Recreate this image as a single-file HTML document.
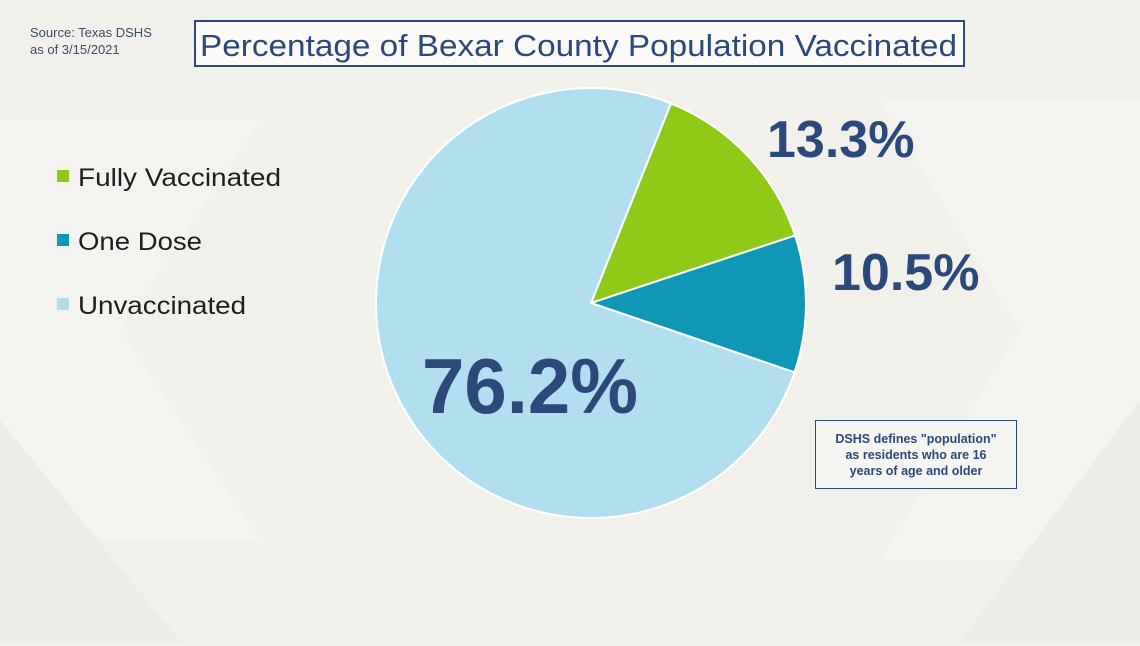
<!DOCTYPE html>
<html><head><meta charset="utf-8"><style>
html,body{margin:0;padding:0;}
body{width:1140px;height:641px;overflow:hidden;background:#f2f0eb;font-family:"Liberation Sans",sans-serif;}
</style></head><body>
<svg width="1140" height="641" viewBox="0 0 1140 641" xmlns="http://www.w3.org/2000/svg">
<rect width="1140" height="641" fill="#f2f0eb"/>
<polygon points="0,120 260,120 120,330 260,540 0,540" fill="#f5f3ef"/>
<polygon points="880,100 1140,100 1140,560 880,560 1020,330" fill="#f5f3ef"/>
<polygon points="0,420 180,641 0,641" fill="#edebe5"/>
<polygon points="1140,400 960,641 1140,641" fill="#edebe5"/>
<text x="30" y="37" font-size="13" fill="#3d4d6a">Source: Texas DSHS</text>
<text x="30" y="54" font-size="13" fill="#3d4d6a">as of 3/15/2021</text>
<rect x="195" y="21" width="769" height="45" fill="#fbfaf8" stroke="#2b4a7b" stroke-width="2"/>
<text x="200" y="56" font-size="31" fill="#2b4a7b" textLength="757" lengthAdjust="spacingAndGlyphs">Percentage of Bexar County Population Vaccinated</text>
<rect x="57" y="170" width="12" height="12" fill="#8fca18"/>
<text x="78" y="186" font-size="25" fill="#1e1e1e" textLength="203" lengthAdjust="spacingAndGlyphs">Fully Vaccinated</text>
<rect x="57" y="234" width="12" height="12" fill="#0e98b5"/>
<text x="78" y="250" font-size="25" fill="#1e1e1e" textLength="124" lengthAdjust="spacingAndGlyphs">One Dose</text>
<rect x="57" y="298" width="12" height="12" fill="#b1dff0"/>
<text x="78" y="314" font-size="25" fill="#1e1e1e" textLength="168" lengthAdjust="spacingAndGlyphs">Unvaccinated</text>
<g stroke="#ffffff" stroke-width="2" stroke-linejoin="round">
<path d="M591,303 L670.9,103.4 A215,215 0 0 1 795.1,235.5 Z" fill="#8fca18"/>
<path d="M591,303 L795.1,235.5 A215,215 0 0 1 794.5,372.3 Z" fill="#0e98b5"/>
<path d="M591,303 L794.5,372.3 A215,215 0 1 1 670.9,103.4 Z" fill="#b1dff0"/>
</g>
<text x="767" y="157" font-size="52" font-weight="bold" fill="#2b4a7b">13.3%</text>
<text x="832" y="290" font-size="52" font-weight="bold" fill="#2b4a7b">10.5%</text>
<text x="422" y="413" font-size="78" font-weight="bold" fill="#2b4a7b" textLength="216" lengthAdjust="spacingAndGlyphs">76.2%</text>
<rect x="815.5" y="420.5" width="201" height="68" fill="#f6f5f1" stroke="#2b4a7b" stroke-width="1"/>
<g font-size="12.5" font-weight="bold" fill="#2b4a7b" text-anchor="middle">
<text x="916" y="443">DSHS defines "population"</text>
<text x="916" y="459">as residents who are 16</text>
<text x="916" y="475">years of age and older</text>
</g>
</svg>
</body></html>
